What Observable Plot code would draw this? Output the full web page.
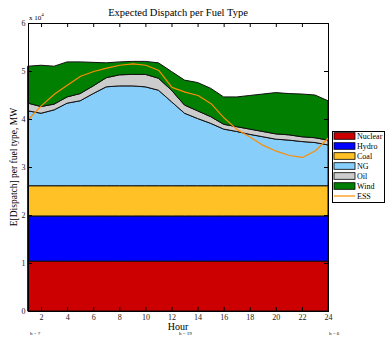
<!DOCTYPE html>
<html>
<head>
<meta charset="utf-8">
<script src="https://cdn.jsdelivr.net/npm/d3@7"></script>
<script src="https://cdn.jsdelivr.net/npm/@observablehq/plot@0.6"></script>
<style>
  body { margin: 0; background: #fff; }
  #chart svg { display: block; }
</style>
</head>
<body>
<div id="chart"></div>
<script>
// Hours of the day
const hours = [1, 2, 3, 4, 5, 6, 7, 8, 9, 10, 11, 12, 13, 14, 15, 16, 17, 18, 19, 20, 21, 22, 23, 24];

// Expected dispatch per fuel type (MW), stacked bottom to top
const fuels = ["Nuclear", "Hydro", "Coal", "NG", "Oil", "Wind"];
const fuelColors = ["#CC0000", "#0000FF", "#FFC125", "#87CEFA", "#CCCCCC", "#007F00"];

const nuclear = [10400, 10400, 10400, 10400, 10400, 10400, 10400, 10400, 10400, 10400, 10400, 10400,
                 10400, 10400, 10400, 10400, 10400, 10400, 10400, 10400, 10400, 10400, 10400, 10400];
const hydro   = [9400, 9400, 9400, 9400, 9400, 9400, 9400, 9400, 9400, 9400, 9400, 9400,
                 9400, 9400, 9400, 9400, 9400, 9400, 9400, 9400, 9400, 9400, 9400, 9400];
const coal    = [6300, 6300, 6300, 6300, 6300, 6300, 6300, 6300, 6300, 6300, 6300, 6300,
                 6300, 6300, 6300, 6300, 6300, 6300, 6300, 6300, 6300, 6300, 6300, 6300];
const ng      = [15600, 15100, 15800, 17200, 17700, 19200, 20600, 20800, 20800, 20600, 19900, 17500,
                 15100, 14000, 13000, 11800, 11300, 10700, 10200, 9700, 9500, 9200, 9000, 8500];
const oil     = [1600, 1400, 1200, 1300, 1500, 1600, 1900, 2300, 2400, 2600, 2500, 2400,
                 1700, 1600, 1400, 1000, 1000, 1100, 1100, 1100, 1100, 1000, 1000, 1000];
const wind    = [7700, 8600, 7900, 7300, 6600, 4900, 3100, 2700, 2700, 2700, 3200, 3900,
                 5200, 5900, 5900, 5700, 6200, 7000, 7800, 8600, 8600, 8900, 8900, 8200];

// Energy storage system line (MW)
const ess     = [40000, 42900, 45300, 47200, 49000, 50000, 50700, 51300, 51600, 51300, 50200, 46700,
                 45700, 45000, 43300, 40300, 37900, 36300, 34600, 33400, 32500, 32100, 33500, 36200];

// Axis ticks
const xTicks = [2, 4, 6, 8, 10, 12, 14, 16, 18, 20, 22, 24];
const yTicks = [0, 10000, 20000, 30000, 40000, 50000, 60000];
const yTickLabels = ["0", "1", "2", "3", "4", "5", "6"];

const series = [nuclear, hydro, coal, ng, oil, wind];
const rows = [];
hours.forEach((h, i) => {
  fuels.forEach((f, j) => rows.push({hour: h, fuel: f, value: series[j][i]}));
});
const essRows = hours.map((h, i) => ({hour: h, value: ess[i]}));

const font = "'Liberation Serif', 'Times New Roman', serif";

const W = 385, H = 338, mL = 28, mR = 57, mT = 23, mB = 27;
const innerW = W - mL - mR, innerH = H - mT - mB, tk = 4;

const chart = Plot.plot({
  width: W,
  height: H,
  marginLeft: mL,
  marginRight: mR,
  marginTop: mT,
  marginBottom: mB,
  style: {fontFamily: font, fontSize: "8px", background: "#fff", color: "#222"},
  x: {domain: [1, 24]},
  y: {domain: [0, 60000]},
  color: {domain: fuels, range: fuelColors},
  marks: [
    Plot.areaY(rows, {x: "hour", y: "value", z: "fuel", fill: "fuel", order: fuels,
                      stroke: "#111", strokeWidth: 1}),
    Plot.line(essRows, {x: "hour", y: "value", stroke: "#FF8C00", strokeWidth: 1.2}),
    // inward tick marks on all four sides
    Plot.tickX(xTicks, {x: (d) => d, insetTop: innerH - tk, stroke: "#000"}),
    Plot.tickX(xTicks, {x: (d) => d, insetBottom: innerH - tk, stroke: "#000"}),
    Plot.tickY(yTicks, {y: (d) => d, insetRight: innerW - tk, stroke: "#000"}),
    Plot.tickY(yTicks, {y: (d) => d, insetLeft: innerW - tk, stroke: "#000"}),
    Plot.frame({stroke: "#000", strokeWidth: 1}),
    // tick labels
    Plot.axisX({anchor: "bottom", ticks: xTicks, tickSize: 0, tickPadding: 3, label: null}),
    Plot.axisY({anchor: "left", ticks: yTicks, tickSize: 0, tickPadding: 3, label: null,
                tickFormat: (d) => yTickLabels[yTicks.indexOf(d)]})
  ]
});

document.getElementById("chart").appendChild(chart);

// Titles, exponent note, axis labels and legend
const svg = d3.select(chart);
const g = svg.append("g").attr("font-family", font).attr("fill", "#000").attr("text-anchor", "start");

g.append("text").attr("x", 178).attr("y", 16).attr("text-anchor", "middle")
  .attr("font-size", "10.5px").text("Expected Dispatch per Fuel Type");

const exp = g.append("text").attr("x", 29).attr("y", 20).attr("font-size", "7px");
exp.append("tspan").text("x 10");
exp.append("tspan").attr("dy", -4).attr("font-size", "5px").text("4");

g.append("text").attr("x", 178).attr("y", 330).attr("text-anchor", "middle")
  .attr("font-size", "10px").text("Hour");

g.append("text").attr("transform", "translate(17,167) rotate(-90)").attr("text-anchor", "middle")
  .attr("font-size", "9.5px").text("E[Dispatch] per fuel type, MW");

g.append("text").attr("x", 30).attr("y", 335).attr("font-size", "5px").text("h = 7");
g.append("text").attr("x", 179).attr("y", 335).attr("font-size", "5px").text("h = 19");
g.append("text").attr("x", 329).attr("y", 335).attr("font-size", "5px").text("h = 6");

const legend = svg.append("g").attr("font-family", font).attr("text-anchor", "start");
legend.append("rect").attr("x", 332.5).attr("y", 131.5).attr("width", 52).attr("height", 71)
  .attr("fill", "#fff").attr("stroke", "#000").attr("stroke-width", 1);
fuels.forEach((f, i) => {
  const cy = 136 + i * 10;
  legend.append("rect").attr("x", 334).attr("y", cy - 3.3).attr("width", 21).attr("height", 6.6)
    .attr("fill", fuelColors[i]).attr("stroke", "#000").attr("stroke-width", 0.8);
  legend.append("text").attr("x", 357).attr("y", cy + 2.8).attr("font-size", "8px").attr("fill", "#000").text(f);
});
legend.append("line").attr("x1", 334).attr("x2", 355).attr("y1", 196).attr("y2", 196)
  .attr("stroke", "#FF8C00").attr("stroke-width", 1.2);
legend.append("text").attr("x", 357).attr("y", 198.8).attr("font-size", "8px").attr("fill", "#000").text("ESS");
</script>
</body>
</html>
